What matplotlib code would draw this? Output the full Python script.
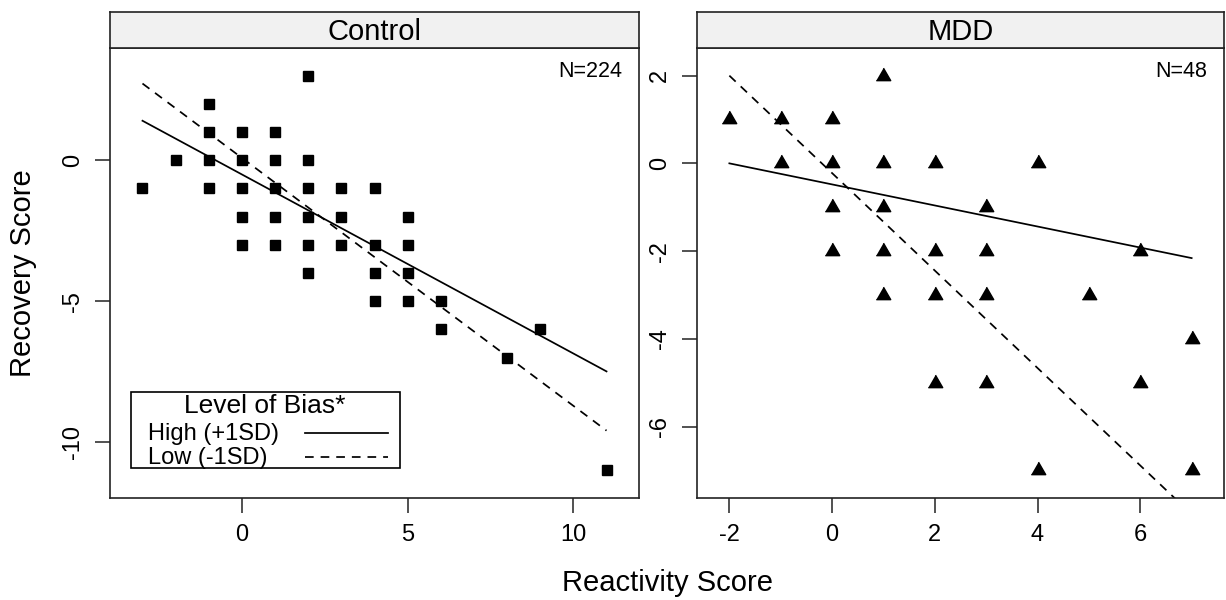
import matplotlib
matplotlib.use("Agg")
import matplotlib.pyplot as plt
from matplotlib.patches import Rectangle
from matplotlib.lines import Line2D

plt.rcParams["font.family"] = ["Liberation Sans", "DejaVu Sans"]
plt.rcParams["axes.unicode_minus"] = False

# ---- data ----
# Control group
control_x = [2, -1, -1, 0, 1, -2, -1, 0, 1, 2,
             -3, -1, 0, 1, 2, 3, 4,
             0, 1, 2, 3, 5,
             0, 1, 2, 3, 4, 5,
             2, 4, 5,
             4, 5, 6,
             6, 9, 8, 11]
control_y = [3, 2, 1, 1, 1, 0, 0, 0, 0, 0,
             -1, -1, -1, -1, -1, -1, -1,
             -2, -2, -2, -2, -2,
             -3, -3, -3, -3, -3, -3,
             -4, -4, -4,
             -5, -5, -5,
             -6, -6, -7, -11]

# MDD group
mdd_x = [1, -2, -1, 0, -1, 0, 1, 2, 4, 0, 1, 3,
         0, 1, 2, 3, 6, 1, 2, 3, 5, 7, 2, 3, 6, 4, 7]
mdd_y = [2, 1, 1, 1, 0, 0, 0, 0, 0, -1, -1, -1,
         -2, -2, -2, -2, -2, -3, -3, -3, -3, -4, -5, -5, -5, -7, -7]

# fitted lines (end points), high bias = +1SD, low bias = -1SD
control_line_x = [-3, 11]
control_high = [1.40, -7.49]
control_low = [2.72, -9.59]
mdd_line_x = [-2, 7]
mdd_high = [0.0, -2.16]
mdd_low = [2.0, -8.0]

panel_names = ["Control", "MDD"]
panel_n = ["N=224", "N=48"]
legend_title = "Level of Bias*"
legend_labels = ["High (+1SD)", "Low (-1SD)"]

# ---- figure ----
W, H = 1226, 600
fig = plt.figure(figsize=(W / 100, H / 100), dpi=100)

frame_col = "#222222"
tick_fs = 17
lab_fs = 21
line_w = 1.25
dash = (0, (5, 4))

def make_panel(left_px, width_px, name, ntext):
    ax = fig.add_axes([left_px / W, 102 / H, width_px / W, 450 / H])
    strip = fig.add_axes([left_px / W, 552 / H, width_px / W, 36 / H])
    strip.set_facecolor("#f1f1f1")
    strip.set_xticks([])
    strip.set_yticks([])
    for s in strip.spines.values():
        s.set_linewidth(1.2)
        s.set_color(frame_col)
    strip.text(0.5, 0.45, name, ha="center", va="center", fontsize=lab_fs,
               transform=strip.transAxes)
    for s in ax.spines.values():
        s.set_linewidth(1.2)
        s.set_color(frame_col)
    ax.tick_params(direction="out", length=10.8, width=1.1, color=frame_col,
                   labelsize=tick_fs, top=False, right=False, pad=8)
    ax.text(0.968, 0.947, ntext, transform=ax.transAxes, ha="right",
            va="center", fontsize=15.5)
    return ax

ax1 = make_panel(110, 529, panel_names[0], panel_n[0])
ax2 = make_panel(697, 527, panel_names[1], panel_n[1])

# control panel
ax1.plot(control_x, control_y, linestyle="none", marker="s", ms=7.6,
         color="black")
ax1.plot(control_line_x, control_high, color="black", lw=line_w)
ax1.plot(control_line_x, control_low, color="black", lw=line_w, linestyle=dash)
ax1.set_xlim(-3.98, 11.98)
ax1.set_ylim(-11.98, 3.98)
ax1.set_xticks([0, 5, 10])
ax1.set_yticks([-10, -5, 0])

# MDD panel
tri = [(-1, -0.577), (1, -0.577), (0, 1.155)]
ax2.plot(mdd_x, mdd_y, linestyle="none", marker=tri, ms=12, color="black")
ax2.plot(mdd_line_x, mdd_high, color="black", lw=line_w)
ax2.plot(mdd_line_x, mdd_low, color="black", lw=line_w, linestyle=dash)
ax2.set_xlim(-2.63, 7.63)
ax2.set_ylim(-7.63, 2.63)
ax2.set_xticks([-2, 0, 2, 4, 6])
ax2.set_yticks([-6, -4, -2, 0, 2])

for ax in (ax1, ax2):
    for t in ax.get_yticklabels():
        t.set_rotation(90)
        t.set_va("center")

# legend box drawn like the lattice key: text left, line sample right
tr = ax1.transAxes
ax1.add_patch(Rectangle((0.0397, 0.0667), 0.5085, 0.169, transform=tr,
                        facecolor="white", edgecolor="black", lw=1.2,
                        zorder=5))
ax1.text(0.293, 0.205, legend_title, transform=tr, ha="center", va="center",
         fontsize=19, zorder=6)
row_y = [0.143, 0.089]
for lab, ls, yy in zip(legend_labels, ["-", dash], row_y):
    ax1.text(0.0718, yy, lab, transform=tr, ha="left", va="center",
             fontsize=17, zorder=6)
    ax1.add_line(Line2D([0.3686, 0.5255], [yy + 0.002, yy + 0.002],
                        transform=tr, color="black", lw=line_w, linestyle=ls,
                        zorder=6))

fig.text(23 / W, 1 - 273 / H, "Recovery Score", rotation=90, ha="center",
         va="center", fontsize=lab_fs)
fig.text(667 / W, 1 - 583 / H, "Reactivity Score", ha="center", va="center",
         fontsize=lab_fs)

fig.savefig("out.png", dpi=100)
